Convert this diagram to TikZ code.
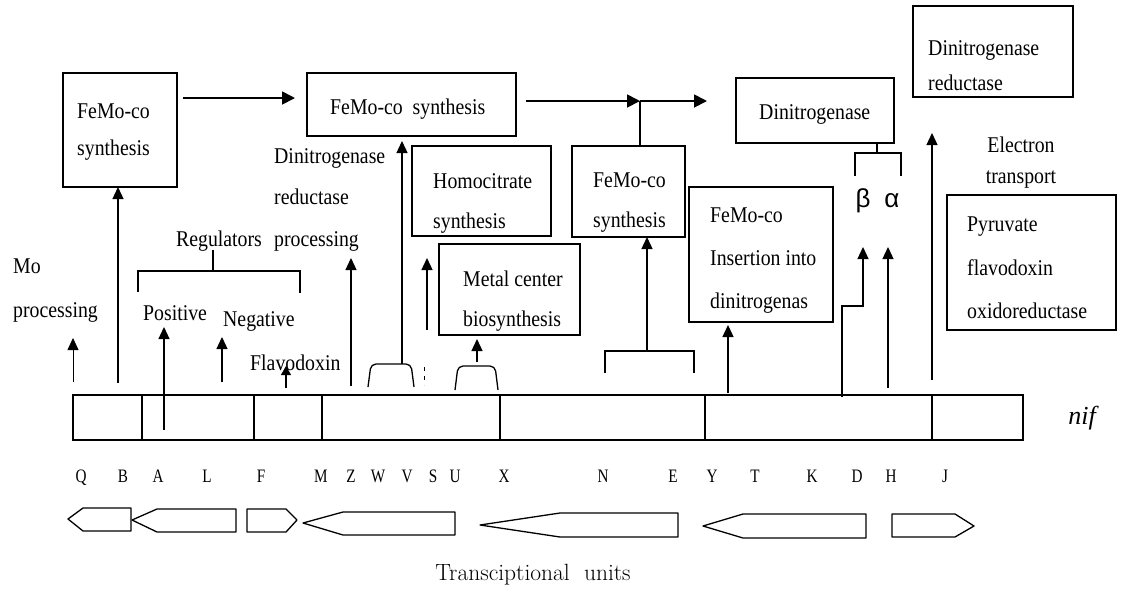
\documentclass[tikz,border=0pt]{standalone}
\usepackage{fontspec}
\newfontfamily\timesfont[FakeStretch=0.88]{Liberation Serif}
\newfontfamily\genefont[FakeStretch=0.8]{Liberation Serif}
\newfontfamily\niffont{Liberation Serif}
\newfontfamily\arialfont{Liberation Sans}
\usetikzlibrary{arrows.meta}

\newcommand\labfont[1]{\timesfont\fontsize{22.5}{#1}\selectfont}

\tikzset{
    unit/.style={draw, line width=1.3pt, inner sep=0pt, outer sep=0pt},
    lbl/.style={inner sep=0pt, anchor=west, align=left, font=\labfont{40}},
    up/.style={line width=1.3pt, -{Triangle[length=12pt, width=11pt]}},
    flow/.style={line width=1.8pt, -{Triangle[length=13pt, width=13pt]}},
    brace/.style={line width=1.3pt},
    gene/.style={anchor=base, font=\genefont\fontsize{19}{19}\selectfont},
    tu/.style={line width=1.3pt, line join=round},
}

\begin{document}
\begin{tikzpicture}[x=1pt, y=-1pt]
    \useasboundingbox (0,0) rectangle (1124,614);

    % boxes of the products
    \node [unit, minimum width=114pt, minimum height=114pt] (fm1) at (120,130) {}; % first FeMo-co
    \node [unit, minimum width=209pt, minimum height=63pt] (fm2) at (411.5,104.5) {}; % second FeMo-co
    \node [unit, minimum width=139pt, minimum height=90pt] (hc) at (481.5,191) {}; % homocitrate
    \node [unit, minimum width=113pt, minimum height=91pt] (fm3) at (628.5,191.5) {}; % third FeMo-co
    \node [unit, minimum width=141pt, minimum height=91pt] (metal) at (509.5,289.5) {}; % metal center
    \node [unit, minimum width=144pt, minimum height=135pt] (ins) at (761,254.5) {}; % insertion
    \node [unit, minimum width=158pt, minimum height=65pt] (dn) at (815,110.5) {}; % dinitrogenase
    \node [unit, minimum width=160pt, minimum height=91pt] (dnr) at (993,51.5) {}; % reductase
    \node [unit, minimum width=169pt, minimum height=135pt] (pyr) at (1031.5,262.5) {}; % pyruvate

    % texts of the boxes
    \node [lbl, font=\labfont{37}] (fm1t) at (77,132.5) {FeMo-co\\synthesis};
    \node [lbl] (fm2t) at (330,109) {FeMo-co\ \ synthesis};
    \node [lbl] (hct) at (433,203) {Homocitrate\\synthesis};
    \node [lbl] (fm3t) at (593,203) {FeMo-co\\synthesis};
    \node [lbl] (metalt) at (463,301) {Metal center\\biosynthesis};
    \node [lbl, font=\labfont{43}] (inst) at (710,261) {FeMo-co\\Insertion into\\dinitrogenas};
    \node [lbl] (dnt) at (759,114) {Dinitrogenase};
    \node [lbl, font=\labfont{35}] (dnrt) at (928,65.5) {Dinitrogenase\\reductase};
    \node [lbl, font=\labfont{43.5}] (pyrt) at (967,268) {Pyruvate\\flavodoxin\\oxidoreductase};

    % free labels
    \node [lbl, font=\labfont{44}] (mo) at (13,291) {Mo\\processing};
    \node [lbl, anchor=center] (reg) at (219,241) {Regulators};
    \node [lbl] (pos) at (143,313) {Positive};
    \node [lbl] (neg) at (223,321) {Negative};
    \node [lbl] (fld) at (250,363) {Flavodoxin};
    \node [lbl, font=\labfont{41.5}] (drp) at (274,199.5) {Dinitrogenase\\reductase\\processing};
    \node [lbl, anchor=center, align=center, font=\labfont{31}] (etr) at (1021,163) {Electron\\transport};
    \node [font=\arialfont\fontsize{26}{26}\selectfont] (beta) at (863,201) {β};
    \node [font=\arialfont\fontsize{26}{26}\selectfont] (alpha) at (892,201) {α};
    \node [font=\niffont\itshape\fontsize{26}{26}\selectfont] (nif) at (1082,418) {nif};

    % the nif cluster
    \foreach \a/\b [count=\i] in {73/142,142/254,254/322,322/500,500/705,705/932,932/1023}
        \node [unit, anchor=west, minimum width=\b-\a, minimum height=45pt] (seg\i) at (\a,417.5) {};

    % gene names
    \foreach \g/\x in {Q/81,B/123,A/158,L/207,F/261,M/321,Z/351,W/378,V/407,S/433,U/455,X/504,N/603,E/673,Y/712,T/755,K/812,D/857,H/891,J/945}
        \node [gene] (g\g) at (\x,482) {\g};

    % transcriptional units
    \draw [tu] (68,519) -- (83,508) -- (131,508) -- (131,531) -- (83,531) -- cycle;
    \draw [tu] (132,520) -- (157,509) -- (236,509) -- (236,532) -- (157,532) -- cycle;
    \draw [tu] (247,509) -- (286,509) -- (297,520) -- (286,532) -- (247,532) -- cycle;
    \draw [tu] (303,523) -- (343,512) -- (455,512) -- (455,535) -- (343,535) -- cycle;
    \draw [tu] (480,525) -- (560,513) -- (678,513) -- (678,537) -- (560,537) -- cycle;
    \draw [tu] (703,526) -- (743,514) -- (866,514) -- (866,538) -- (743,538) -- cycle;
    \draw [tu] (892,514) -- (955,514) -- (974,526) -- (955,537) -- (892,537) -- cycle;
    \node [font=\fontsize{23.5}{23.5}\selectfont] (tunits) at (533,575) {Transciptional\ \ units};

    % pathway on top
    \coordinate (t1s) at (183,98);
    \coordinate (t1e) at (295,98);
    \coordinate (t2s) at (526,101);
    \coordinate (t2m) at (640,101);
    \coordinate (t2e) at (707,101);
    \draw [flow] (t1s) -- (t1e);
    \draw [flow] (t2s) -- (t2m);
    \draw [flow] (t2m) -- (t2e);
    \draw [brace] (fm3.north -| t2m) -- (t2m);

    % arrows from the genes
    \coordinate (q0) at (73,382);
    \coordinate (q1) at (73,338);
    \draw [up, line width=0.8pt] (q0) -- (q1); % Q
    \coordinate (b0) at (118,383);
    \draw [up] (b0) -- (b0 |- fm1.south); % B
    \coordinate (a0) at (164,430);
    \coordinate (a1) at (164,327);
    \draw [up] (a0) -- (a1); % A
    \coordinate (l0) at (222,382);
    \coordinate (l1) at (222,337);
    \draw [up] (l0) -- (l1); % L
    \draw [brace] (213,250) -- (213,271);
    \draw [brace] (138,292) -- (138,271) -- (300,271) -- (300,293);
    \coordinate (f0) at (286,388);
    \coordinate (f1) at (286,366);
    \draw [line width=1.3pt, -{Triangle[length=9pt, width=10pt]}] (f0) -- (f1); % F
    \coordinate (m0) at (351,386);
    \coordinate (m1) at (351,258);
    \draw [up] (m0) -- (m1); % M
    \draw [brace, rounded corners=5pt] (368,387) -- (371,364) -- (411,364) -- (414,387); % Z W
    \coordinate (zw) at (402,364);
    \draw [up, shorten >=5pt] (zw) -- (zw |- fm2.south);
    \draw [line width=1pt, dash pattern=on 4pt off 5pt] (424,367) -- (424,385);
    \coordinate (v0) at (427,330);
    \coordinate (v1) at (427,258);
    \draw [up] (v0) -- (v1); % V
    \draw [brace, rounded corners=5pt] (455,390) -- (458,366) -- (495,366) -- (498,390); % S U
    \coordinate (su) at (477,362);
    \draw [up, shorten >=4pt] (su) -- (su |- metal.south);
    \draw [brace] (605,373) -- (605,351) -- (694,351) -- (694,373); % X N E
    \coordinate (xe) at (647,351);
    \draw [up] (xe) -- (xe |- fm3.south);
    \coordinate (y0) at (728,393);
    \draw [up, shorten >=3pt] (y0) -- (y0 |- ins.south); % Y
    \coordinate (k0) at (842,397);
    \coordinate (k1) at (863,247);
    \draw [up] (k0) -- (842,306) -- (863,306) -- (k1); % K
    \coordinate (d0) at (888,388);
    \coordinate (d1) at (888,247);
    \draw [up] (d0) -- (d1); % D
    \coordinate (h0) at (932,380);
    \coordinate (h1) at (932,133);
    \draw [up] (h0) -- (h1); % H
    \coordinate (kd) at (877,153);
    \draw [brace] (dn.south -| kd) -- (kd);
    \draw [brace] (855,176) -- (855,153) -- (901,153) -- (901,176);
\end{tikzpicture}
\end{document}
